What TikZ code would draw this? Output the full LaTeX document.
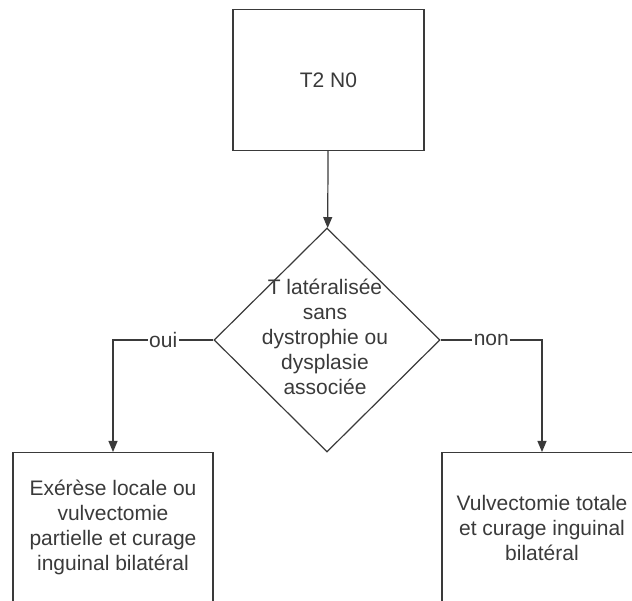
\documentclass[tikz,border=0pt]{standalone}
\usepackage{fontspec}
\setmainfont{Liberation Sans}
\usetikzlibrary{shapes.geometric,arrows.meta}
\definecolor{ink}{HTML}{3A3A3A}

\tikzset{
    box/.style    = {draw=ink, line width=1.2pt, text=ink, align=center, inner sep=0pt},
    choice/.style = {draw=ink, line width=1.2pt, diamond, minimum width=226pt,
                     minimum height=224pt, inner sep=0pt},
    flow/.style   = {draw=ink, line width=1.2pt, -{Triangle[length=11pt,width=9pt]}},
    tag/.style    = {fill=white, text=ink, inner sep=1.5pt}
}

\begin{document}
\begin{tikzpicture}[x=1pt, y=-1pt, font=\fontsize{21}{25}\selectfont]
    \useasboundingbox (0,0) rectangle (632,601);
    \clip (0,0) rectangle (632,601);
    % nodes
    \node [box, minimum width=191, minimum height=141] (stage) at (328.5,80) {T2 N0};
    \node [choice] (lateral) at (327,340) {};
    \node [align=center, text=ink, inner sep=0pt] (lateraltext) at (325,337)
        {T latéralisée\\sans\\dystrophie ou\\dysplasie\\associée};
    \node [box, minimum width=200, minimum height=150, anchor=north] (local) at (113,452)
        {Exérèse locale ou\\vulvectomie\\partielle et curage\\inguinal bilatéral};
    \node [box, minimum width=200, minimum height=150, anchor=north] (radical) at (542,452)
        {Vulvectomie totale\\et curage inguinal\\bilatéral};
    % connectors
    \draw [flow] (stage) -- (lateral);
    \draw [flow] (lateral.west) -| node [tag, pos=0.25] {oui} (local.north);
    \draw [flow] (lateral.east) -| node [tag, pos=0.25] {non} (radical.north);
\end{tikzpicture}
\end{document}
